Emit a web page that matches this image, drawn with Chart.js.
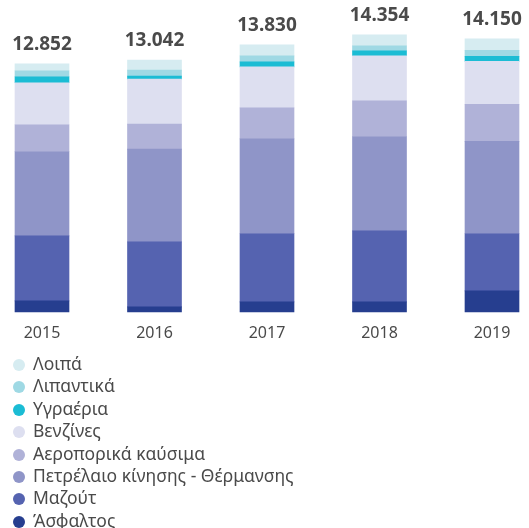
<!DOCTYPE html>
<html>
<head>
<meta charset="utf-8">
<script src="https://cdn.jsdelivr.net/npm/chart.js@4"></script>
<style>
  body { margin: 0; background: #fff; font-family: "Noto Sans", sans-serif; }
  #wrap { position: relative; width: 529px; height: 528px; }
  #box { position: absolute; left: 0; top: 0; width: 529px; height: 355px; }
  #legend { position: absolute; left: 0; top: 352px; list-style: none; margin: 0; padding: 0; }
  #legend li { height: 22.4px; line-height: 22.4px; font-size: 17.5px; color: #4a4a4a; white-space: nowrap; }
  #legend span { display: inline-block; width: 12px; height: 12px; border-radius: 50%; margin: 0 8px 0 13px; vertical-align: -1px; }
</style>
</head>
<body>
<div id="wrap">
  <div id="box"><canvas id="chart"></canvas></div>
  <ul id="legend"></ul>
</div>
<script>
const years = ["2015", "2016", "2017", "2018", "2019"];
const totals = [12852, 13042, 13830, 14354, 14150];

// stacked from the bottom up
const asfaltos = [570, 259, 518, 518, 1088];
const mazout = [3368, 3368, 3524, 3679, 2954];
const petrelaio = [4353, 4800, 4917, 4871, 4790];
const aeroporika = [1399, 1296, 1606, 1866, 1917];
const venzines = [2176, 2332, 2125, 2332, 2228];
const ygraeria = [311, 155, 259, 259, 259];
const lipantika = [311, 311, 311, 259, 311];
const loipa = [363, 520, 570, 570, 603];

const series = [
  { label: "Άσφαλτος", data: asfaltos, color: "#263e8f" },
  { label: "Μαζούτ", data: mazout, color: "#5563b0" },
  { label: "Πετρέλαιο κίνησης - Θέρμανσης", data: petrelaio, color: "#8f95c8" },
  { label: "Αεροπορικά καύσιμα", data: aeroporika, color: "#b0b2d8" },
  { label: "Βενζίνες", data: venzines, color: "#dddff0" },
  { label: "Υγραέρια", data: ygraeria, color: "#1bbcd4" },
  { label: "Λιπαντικά", data: lipantika, color: "#9fd9e4" },
  { label: "Λοιπά", data: loipa, color: "#d6ecf1" }
];

function fmt(n) {
  return String(n).replace(/\B(?=(\d{3})+(?!\d))/g, ".");
}

const totalLabels = {
  id: "totalLabels",
  afterDatasetsDraw(chart) {
    const c = chart.ctx;
    const x = chart.scales.x;
    const y = chart.scales.y;
    c.save();
    c.font = "bold 19px 'Noto Sans'";
    c.fillStyle = "#4a4a4a";
    c.textAlign = "center";
    c.textBaseline = "middle";
    totals.forEach((t, i) => {
      c.fillText(fmt(t), x.getPixelForValue(i), y.getPixelForValue(t) - 19);
    });
    c.restore();
  }
};

const ctx = document.getElementById("chart").getContext("2d");
const chart = new Chart(ctx, {
  type: "bar",
  data: {
    labels: years,
    datasets: series.map(s => ({
      label: s.label,
      data: s.data,
      backgroundColor: s.color,
      barThickness: 54,
      borderWidth: 0,
      clip: false
    }))
  },
  options: {
    responsive: true,
    maintainAspectRatio: false,
    animation: false,
    layout: { padding: { left: 42, right: 37, top: 3, bottom: 0 } },
    plugins: {
      legend: { display: false },
      tooltip: { enabled: false }
    },
    scales: {
      x: {
        stacked: true,
        offset: false,
        grid: { display: false, drawTicks: false },
        border: { display: false },
        ticks: { color: "#4a4a4a", font: { family: "Noto Sans", size: 16 }, padding: 12 }
      },
      y: {
        stacked: true,
        display: false,
        min: 0,
        max: 16000
      }
    }
  },
  plugins: [totalLabels]
});

const legend = document.getElementById("legend");
series.slice().reverse().forEach(s => {
  const li = document.createElement("li");
  li.innerHTML = `<span style="background:${s.color}"></span>${s.label}`;
  legend.appendChild(li);
});
</script>
</body>
</html>
